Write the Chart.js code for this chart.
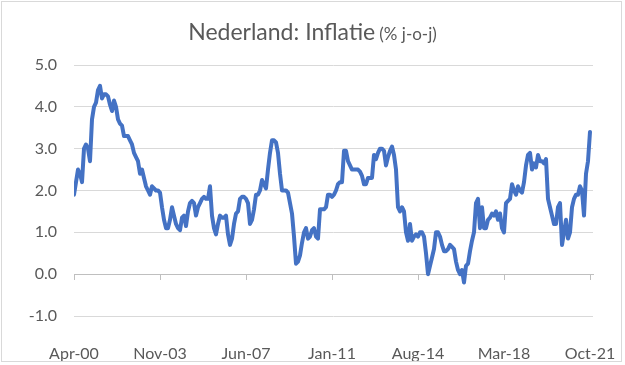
<!DOCTYPE html>
<html>
<head>
<meta charset="utf-8">
<script src="https://cdn.jsdelivr.net/npm/chart.js@4.4.0/dist/chart.umd.min.js"></script>
<style>
  html, body { margin: 0; padding: 0; background: #fff; }
  #wrap { position: relative; width: 625px; height: 365px; overflow: hidden; }
  #wrap canvas { position: absolute; left: 0; top: 0; }
  #frame { position: absolute; left: 1px; top: 1px; width: 621px; height: 361px; border: 1px solid #d9d9d9; box-sizing: border-box; pointer-events: none; }
  #title { position: absolute; left: 0; top: 17px; width: 625px; text-align: center; color: #595959; font-family: Lato, sans-serif; white-space: nowrap; }
  #title .main { font-size: 23px; }
  #title .sub { font-size: 17px; }
</style>
</head>
<body>
<div id="wrap">
  <canvas id="inflatie" width="625" height="365"></canvas>
  <div id="title"><span class="main">Nederland: Inflatie</span> <span class="sub">(% j-o-j)</span></div>
  <div id="frame"></div>
</div>
<script>
const tickLabels = ['Apr-00', 'Nov-03', 'Jun-07', 'Jan-11', 'Aug-14', 'Mar-18', 'Oct-21'];
const yMin = -1;
const yMax = 5;

const inflatie = [
  // 2000 apr-dec
  1.9, 2.2, 2.5, 2.4, 2.2, 3.0, 3.1, 3.0, 2.7,
  // 2001
  3.7, 4.0, 4.1, 4.4, 4.5, 4.2, 4.3, 4.3, 4.25, 4.05, 3.9, 4.15,
  // 2002
  4.0, 3.7, 3.6, 3.55, 3.3, 3.3, 3.3, 3.2, 3.1, 2.9, 2.8, 2.7,
  // 2003
  2.4, 2.5, 2.3, 2.1, 2.0, 1.9, 2.1, 2.05, 2.0, 2.0, 1.95, 1.6,
  // 2004
  1.3, 1.1, 1.1, 1.3, 1.6, 1.4, 1.2, 1.1, 1.05, 1.35, 1.4, 1.15,
  // 2005
  1.5, 1.7, 1.75, 1.7, 1.4, 1.6, 1.7, 1.8, 1.85, 1.8, 1.8, 2.1,
  // 2006
  1.4, 1.1, 0.95, 1.2, 1.4, 1.35, 1.35, 1.4, 0.95, 0.7, 0.85, 1.2,
  // 2007
  1.45, 1.5, 1.8, 1.85, 1.85, 1.8, 1.7, 1.2, 1.3, 1.55, 1.9, 1.9,
  // 2008
  2.0, 2.25, 2.15, 2.05, 2.5, 2.9, 3.2, 3.2, 3.15, 2.9, 2.4, 2.0,
  // 2009
  2.0, 2.0, 1.95, 1.7, 1.45, 0.9, 0.25, 0.3, 0.45, 0.75, 1.0, 1.1,
  // 2010
  0.85, 0.9, 1.05, 1.1, 0.9, 0.85, 1.55, 1.55, 1.55, 1.6, 1.9, 1.9,
  // 2011
  1.85, 1.9, 2.0, 2.15, 2.2, 2.2, 2.95, 2.95, 2.7, 2.6, 2.5, 2.5,
  // 2012
  2.5, 2.5, 2.45, 2.35, 2.15, 2.15, 2.3, 2.3, 2.3, 2.85, 2.75, 2.9,
  // 2013
  3.0, 3.0, 2.95, 2.6, 2.8, 2.95, 3.05, 2.85, 2.5, 1.6, 1.5, 1.6,
  // 2014
  1.5, 1.0, 0.8, 1.2, 0.8, 0.9, 0.95, 0.9, 1.0, 1.0, 0.9, 0.5,
  // 2015
  0.0, 0.2, 0.4, 0.6, 1.0, 1.0, 0.9, 0.7, 0.55, 0.55, 0.6, 0.7,
  // 2016
  0.65, 0.6, 0.3, 0.1, 0.0, 0.1, -0.2, 0.2, 0.25, 0.55, 0.8, 1.0,
  // 2017
  1.7, 1.8, 1.1, 1.6, 1.1, 1.1, 1.3, 1.35, 1.45, 1.4, 1.5, 1.3,
  // 2018
  1.45, 1.1, 1.0, 1.7, 1.75, 1.8, 2.15, 2.0, 1.9, 2.1, 2.0, 1.95,
  // 2019
  2.2, 2.6, 2.85, 2.9, 2.5, 2.65, 2.55, 2.85, 2.7, 2.7, 2.65, 2.75,
  // 2020
  1.8, 1.6, 1.4, 1.2, 1.2, 1.6, 1.7, 0.7, 1.0, 1.3, 0.85, 1.0,
  // 2021 jan-okt
  1.6, 1.8, 1.9, 1.9, 2.1, 2.0, 1.4, 2.4, 2.7, 3.4
];

// positie van elk aslabel = aantal maanden sinds het eerste label
const maanden = { Jan: 0, Feb: 1, Mar: 2, Apr: 3, May: 4, Jun: 5, Jul: 6, Aug: 7, Sep: 8, Oct: 9, Nov: 10, Dec: 11 };
function maandNr(label) {
  const [m, j] = label.split('-');
  return (2000 + Number(j)) * 12 + maanden[m];
}
const tickPos = tickLabels.map(l => maandNr(l) - maandNr(tickLabels[0]));

const grey = '#595959';
const font = { family: 'Lato, sans-serif', size: 16 };

function setTicks(scale) {
  scale.ticks = tickPos.map(v => ({ value: v }));
}
// labels mogen buiten het plotvlak uitsteken, geen extra ruimte reserveren
function noPadding(scale) {
  scale.paddingLeft = 0;
  scale.paddingRight = 0;
}

new Chart(document.getElementById('inflatie'), {
  type: 'line',
  data: {
    datasets: [{
      label: 'Inflatie',
      data: inflatie.map((v, i) => ({ x: i, y: v })),
      borderColor: '#4472C4',
      borderWidth: 4,
      borderJoinStyle: 'round',
      borderCapStyle: 'round',
      pointRadius: 0,
      tension: 0,
      fill: false
    }]
  },
  options: {
    responsive: false,
    animation: false,
    layout: { padding: { top: 65, right: 32, left: 0, bottom: 0 } },
    plugins: {
      legend: { display: false },
      tooltip: { enabled: false }
    },
    scales: {
      x: {
        type: 'linear',
        min: 0,
        max: inflatie.length + 0.5,
        afterBuildTicks: setTicks,
        afterFit: s => { s.height = 49; noPadding(s); },
        grid: { display: false },
        border: { display: false },
        ticks: {
          autoSkip: false,
          maxRotation: 0,
          padding: 20,
          color: grey,
          font: font,
          callback: v => {
            const k = tickPos.indexOf(v);
            return k >= 0 ? tickLabels[k] : '';
          }
        }
      },
      xNul: {
        axis: 'x',
        type: 'linear',
        position: { y: 0 },
        min: 0,
        max: inflatie.length + 0.5,
        afterBuildTicks: setTicks,
        afterFit: noPadding,
        grid: { drawOnChartArea: false, drawTicks: true, tickLength: 5, color: '#bfbfbf' },
        border: { display: true, color: '#bfbfbf' },
        ticks: { display: false }
      },
      y: {
        min: yMin,
        max: yMax,
        afterFit: s => { s.width = 74; },
        grid: {
          drawTicks: false,
          color: c => (c.tick && c.tick.value === 0 ? '#bfbfbf' : '#d9d9d9')
        },
        border: { display: false },
        ticks: {
          stepSize: 1,
          padding: 17,
          color: grey,
          font: font,
          callback: v => v.toFixed(1)
        }
      }
    }
  }
});
</script>
</body>
</html>
